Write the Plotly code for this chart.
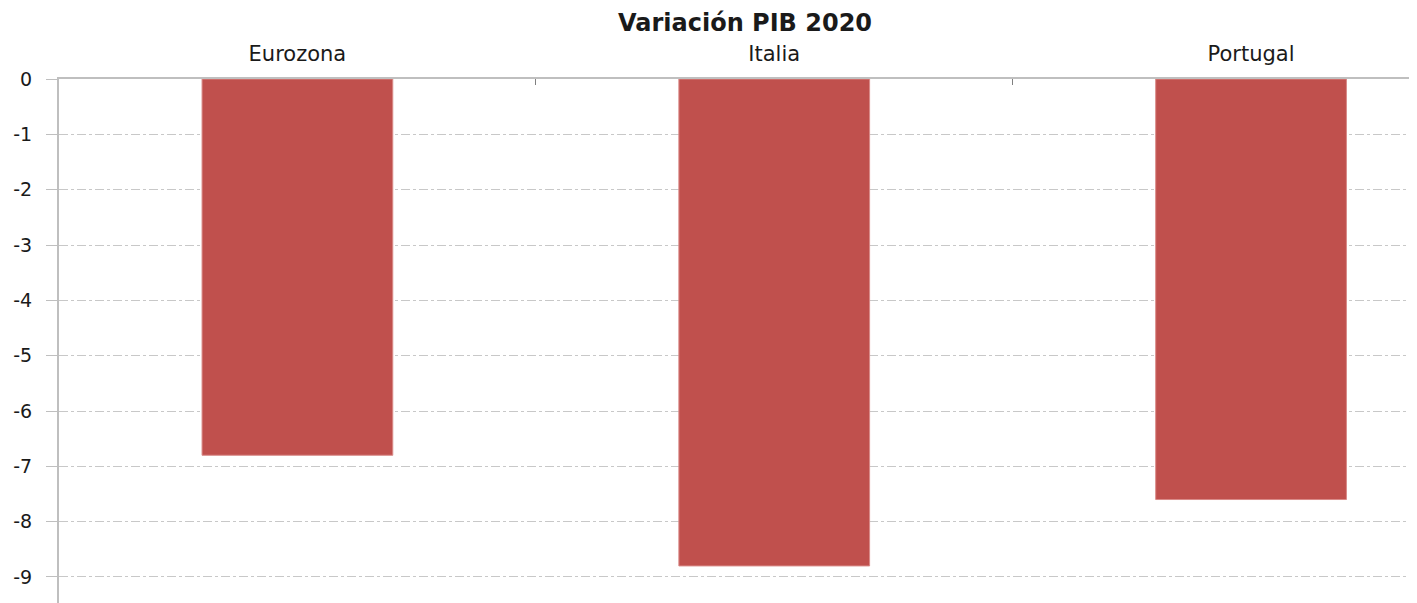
import plotly.graph_objects as go

categories = ["Eurozona", "Italia", "Portugal"]
values = [-6.8, -8.8, -7.6]
y_ticks = [0, -1, -2, -3, -4, -5, -6, -7, -8, -9]

# The page has an 8px body margin, so the figure is sized/offset to compensate.
W, H = 1409, 595

fig = go.Figure()
fig.add_trace(go.Bar(
    x=categories, y=values, width=0.4,
    marker=dict(color="#C0504D", line=dict(color="#D98A88", width=1)),
))

fig.update_layout(
    width=W, height=H,
    margin=dict(l=51, r=0, t=71, b=0, pad=0),
    paper_bgcolor="white", plot_bgcolor="white",
    showlegend=False,
    font=dict(family="DejaVu Sans", color="#1a1a1a"),
    title=dict(text="<b>Variación PIB 2020</b>", x=737/W, xanchor="center",
               y=1-15/H, yanchor="middle", font=dict(size=24, family="DejaVu Sans", color="#1a1a1a")),
    bargap=0.6,
)
fig.update_xaxes(
    side="top", type="category", range=[-0.5, 2.348], automargin=False,
    showline=True, linecolor="#BFBFBF", linewidth=2,
    ticks="inside", tickson="boundaries", ticklen=6, tickcolor="#808080", tickwidth=1,
    showgrid=False, zeroline=False,
    tickfont=dict(size=21, family="DejaVu Sans", color="#1a1a1a"),
    ticklabelstandoff=8,
)
fig.update_yaxes(
    range=[-9.47, 0], tickvals=y_ticks, ticktext=[str(v) for v in y_ticks],
    automargin=False,
    showline=True, linecolor="#BFBFBF", linewidth=2,
    ticks="outside", ticklen=11, tickcolor="#BFBFBF", tickwidth=1,
    showgrid=True, gridcolor="#C8C8C8", griddash="dashdot", gridwidth=1,
    zeroline=False,
    tickfont=dict(size=19, family="DejaVu Sans", color="#1a1a1a"),
    ticklabelstandoff=10,
)
fig.write_html("out.html")
